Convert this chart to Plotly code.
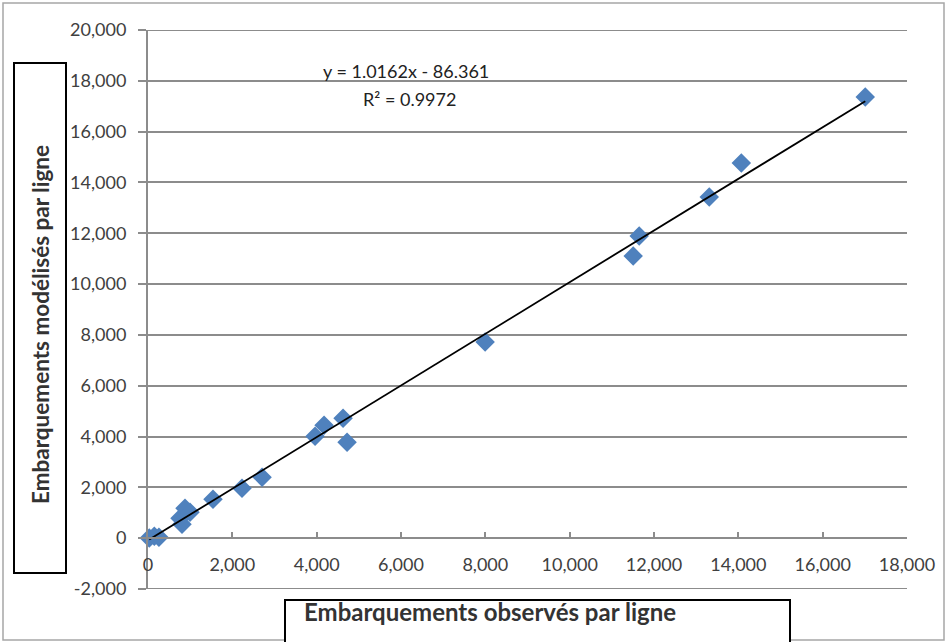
import plotly.graph_objects as go

# Data
observed = [30, 150, 260, 807, 759, 878, 996, 1542, 2230, 2705, 3962, 4176, 4626, 4721,
            7995, 11507, 11649, 13310, 14070, 17010]
modeled = [10, 80, 40, 551, 787, 1181, 1024, 1535, 1969, 2402, 4016, 4449, 4724, 3780,
           7717, 11102, 11890, 13425, 14764, 17362]
slope = 1.0162
intercept = -86.361
eq_text = "y = 1.0162x - 86.361"
r2_text = "R² = 0.9972"

x_tickvals = [0, 2000, 4000, 6000, 8000, 10000, 12000, 14000, 16000, 18000]
x_ticktext = ["0", "2,000", "4,000", "6,000", "8,000", "10,000", "12,000", "14,000", "16,000", "18,000"]
y_tickvals = [-2000, 0, 2000, 4000, 6000, 8000, 10000, 12000, 14000, 16000, 18000, 20000]
y_ticktext = ["-2,000", "0", "2,000", "4,000", "6,000", "8,000", "10,000", "12,000",
              "14,000", "16,000", "18,000", "20,000"]

x_title = "Embarquements observés par ligne"
y_title = "Embarquements modélisés par ligne"

W, H = 947, 642
L, R, T, B = 148, 907, 30, 589
pw, ph = R - L, B - T


def px(xp):
    return (xp - L) / pw


def py(yp):
    return (B - yp) / ph


FONT = "Lato, Open Sans, sans-serif"
GRID = "#8c8c8c"
TXT = "#404040"

fig = go.Figure()

xmin, xmax = min(observed), max(observed)
fig.add_trace(go.Scatter(
    x=observed, y=modeled, mode="markers",
    marker=dict(symbol="diamond", size=15, color="#4F81BD", line=dict(width=0)),
    showlegend=False, cliponaxis=False,
))
fig.add_trace(go.Scatter(
    x=[xmin, xmax], y=[slope * xmin + intercept, slope * xmax + intercept],
    mode="lines", line=dict(color="black", width=1.8), showlegend=False, hoverinfo="skip",
    cliponaxis=False,
))

yr = [-2000, 20000]
xpos = (0 - yr[0]) / (yr[1] - yr[0])

fig.update_layout(
    width=W, height=H,
    margin=dict(l=L, r=W - R, t=T, b=H - B),
    paper_bgcolor="white", plot_bgcolor="white",
    font=dict(family=FONT, size=18, color=TXT),
    xaxis=dict(
        range=[0, 18000], tickvals=x_tickvals, ticktext=x_ticktext,
        showgrid=False, zeroline=False, showline=True, linecolor=GRID, linewidth=2,
        ticks="inside", ticklen=5, tickcolor=GRID, tickwidth=2,
        anchor="free", position=xpos, domain=[0, 1], ticklabelstandoff=10,
        tickfont=dict(size=18, color=TXT, family=FONT),
    ),
    yaxis=dict(
        range=yr, tickvals=y_tickvals, ticktext=y_ticktext,
        showgrid=True, gridcolor=GRID, gridwidth=2,
        zeroline=False, showline=True, linecolor=GRID, linewidth=2,
        ticks="outside", ticklen=8, tickcolor=GRID, tickwidth=2, ticklabelstandoff=8,
        tickfont=dict(size=18, color=TXT, family=FONT), domain=[0, 1],
    ),
    shapes=[
        # outer chart border
        dict(type="rect", xref="paper", yref="paper", x0=px(3), x1=px(944), y0=py(3), y1=py(640),
             line=dict(color="#a6a6a6", width=1.5), layer="below"),
        dict(type="line", xref="paper", yref="y", x0=0, x1=1, y0=-2000, y1=-2000,
             line=dict(color=GRID, width=2), layer="below"),
        dict(type="line", xref="paper", yref="y", x0=0, x1=1, y0=20000, y1=20000,
             line=dict(color=GRID, width=2), layer="below"),
        # y title box
        dict(type="rect", xref="paper", yref="paper", x0=px(14), x1=px(66), y0=py(573), y1=py(63),
             line=dict(color="black", width=2), fillcolor="white"),
        # x title box
        dict(type="rect", xref="paper", yref="paper", x0=px(285), x1=px(790), y0=py(650), y1=py(600),
             line=dict(color="black", width=2), fillcolor="white"),
    ],
    annotations=[
        dict(text="<b>" + y_title + "</b>", xref="paper", yref="paper", x=px(40), y=py(325),
             textangle=-90, showarrow=False, font=dict(size=22.5, color="#333333", family=FONT),
             xanchor="center", yanchor="middle"),
        dict(text="<b>" + x_title + "</b>", xref="paper", yref="paper", x=px(302), y=py(611),
             showarrow=False, font=dict(size=24, color="#333333", family=FONT),
             xanchor="left", yanchor="middle"),
        dict(text=eq_text, xref="paper", yref="paper", x=px(406), y=py(71), showarrow=False,
             font=dict(size=18, color="#222222", family=FONT), xanchor="center", yanchor="middle"),
        dict(text=r2_text, xref="paper", yref="paper", x=px(409), y=py(99), showarrow=False,
             font=dict(size=18, color="#222222", family=FONT), xanchor="center", yanchor="middle"),
    ],
)

fig.write_html("out.html")
